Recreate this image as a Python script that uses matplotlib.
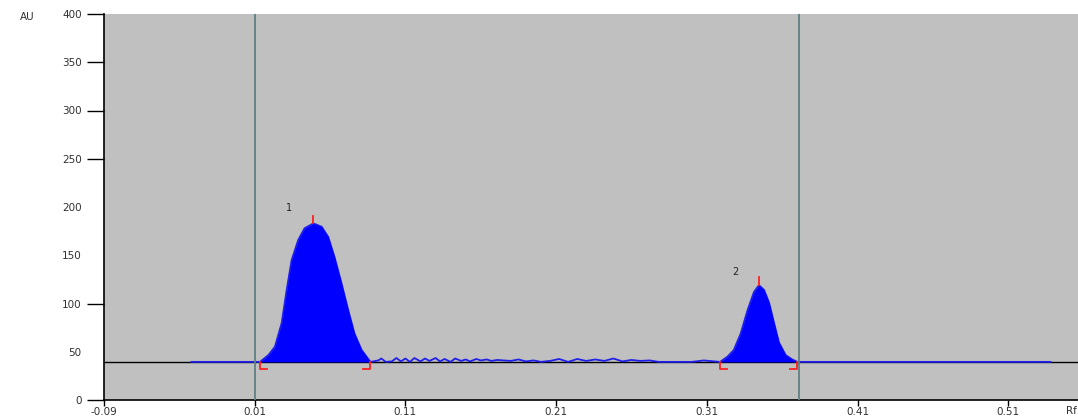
import matplotlib
matplotlib.use('Agg')
import matplotlib.pyplot as plt
import numpy as np

# densitogram values (Rf, AU)
baseline = 39.5
track_start, track_end = -0.032, 0.538

peak1_rf = [0.0135, 0.0191, 0.0234, 0.0279, 0.0312, 0.0345, 0.0389, 0.0431, 0.0489,
            0.0544, 0.0588, 0.0630, 0.0676, 0.0721, 0.0762, 0.0809, 0.0868]
peak1_au = [39.5, 46.6, 55.2, 79.8, 114, 145, 166, 178, 183,
            179.6, 169, 148, 121, 93, 69, 52, 39.5]

peak2_rf = [0.3188, 0.3237, 0.3279, 0.3325, 0.3370, 0.3413, 0.3446, 0.3480,
            0.3513, 0.3546, 0.3579, 0.3623, 0.3667, 0.3701]
peak2_au = [39.5, 44.9, 51.8, 69, 93, 112, 119, 114, 101, 80, 59.6, 46.6, 42, 39.5]

noise_rf = [0.087, 0.092, 0.094, 0.097, 0.101, 0.104, 0.107, 0.110, 0.113, 0.116,
            0.120, 0.123, 0.126, 0.130, 0.133, 0.136, 0.140, 0.143, 0.147, 0.150,
            0.153, 0.157, 0.160, 0.164, 0.167, 0.171, 0.175, 0.180, 0.185, 0.190,
            0.195, 0.200, 0.206, 0.212, 0.218, 0.224, 0.230, 0.236, 0.242, 0.248,
            0.254, 0.260, 0.266, 0.272, 0.278, 0.285, 0.292, 0.300, 0.308, 0.3188]
noise_au = [39.5, 41.0, 43.0, 39.5, 40.0, 43.5, 40.0, 43.0, 39.5, 43.5,
            40.0, 43.0, 40.5, 43.5, 40.0, 42.5, 39.5, 43.0, 40.5, 42.0,
            40.0, 42.5, 41.0, 42.0, 40.5, 41.5, 41.0, 40.5, 42.0, 40.0,
            41.0, 39.5, 40.5, 42.5, 39.5, 42.5, 40.5, 42.0, 40.5, 43.0,
            40.0, 41.5, 40.5, 41.0, 39.5, 39.5, 39.5, 39.5, 41.0, 39.5]

peak_labels = ['1', '2']
label_pos = [(0.0325, 199), (0.329, 133)]
window_lines = [0.01, 0.371]

x_ticks = [-0.09, 0.01, 0.11, 0.21, 0.31, 0.41, 0.51]
y_ticks = [0, 50, 100, 150, 200, 250, 300, 350, 400]

plt.rcParams['font.family'] = ['DejaVu Sans']

fig = plt.figure(figsize=(10.78, 4.18), dpi=100)
ax = fig.add_axes([104/1078, 1 - 400/418, 1 - 104/1078, 386/418])
ax.set_facecolor('#c0c0c0')

ax.set_xlim(-0.09, 0.5563)
ax.set_ylim(0, 400)

# baseline + track trace
ax.axhline(baseline, color='black', lw=1, zorder=2)
trace_rf = [track_start, peak1_rf[0]] + peak1_rf + noise_rf + peak2_rf + [peak2_rf[-1], track_end]
trace_au = [baseline, baseline] + peak1_au + noise_au + peak2_au + [baseline, baseline]
ax.plot(trace_rf, trace_au, color='#2020e8', lw=1.3, zorder=3)

# filled peaks
for rf, au in [(peak1_rf, peak1_au), (peak2_rf, peak2_au)]:
    ax.fill_between(rf, baseline, au, color='#0000ff', lw=0, zorder=4)
    # red start / end brackets
    ax.plot([rf[0], rf[0], rf[0] + 0.0048], [baseline, baseline - 7, baseline - 7],
            color='#ff2020', lw=1.3, zorder=5)
    ax.plot([rf[-1], rf[-1], rf[-1] - 0.0048], [baseline, baseline - 7, baseline - 7],
            color='#ff2020', lw=1.3, zorder=5)
    top = int(np.argmax(au))
    ax.plot([rf[top], rf[top]], [au[top], au[top] + 8], color='#ff2020', lw=1.3, zorder=5)

for lab, (px, py) in zip(peak_labels, label_pos):
    ax.text(px, py, lab, fontsize=7, ha='center', va='center', color='#202020')

for xv in window_lines:
    ax.axvline(xv, color='#5f8082', lw=1.3, zorder=6)

for side in ['top', 'right']:
    ax.spines[side].set_visible(False)
ax.spines['left'].set_linewidth(1.2)
ax.spines['bottom'].set_linewidth(1.2)

ax.set_xticks(x_ticks)
ax.set_xticklabels(['%.2f' % v for v in x_ticks])
ax.set_yticks(y_ticks)
ax.set_yticklabels([str(v) for v in y_ticks])
ax.tick_params(axis='y', length=12, width=1, pad=4, labelsize=7.5, labelcolor='#303030')
ax.tick_params(axis='x', length=4, width=1, pad=1, labelsize=7.5, labelcolor='#303030')

# some y ticks show no dash in the original
for t in ax.yaxis.get_major_ticks():
    if t.get_loc() in (50, 150, 200):
        t.tick1line.set_visible(False)

fig.text(20/1078, 1 - 17/418, 'AU', fontsize=7.5, color='#303030', va='center')
fig.text(1066/1078, 1 - 416/418, 'Rf', fontsize=7.5, color='#303030', va='bottom')

fig.savefig('out.png', dpi=100)
